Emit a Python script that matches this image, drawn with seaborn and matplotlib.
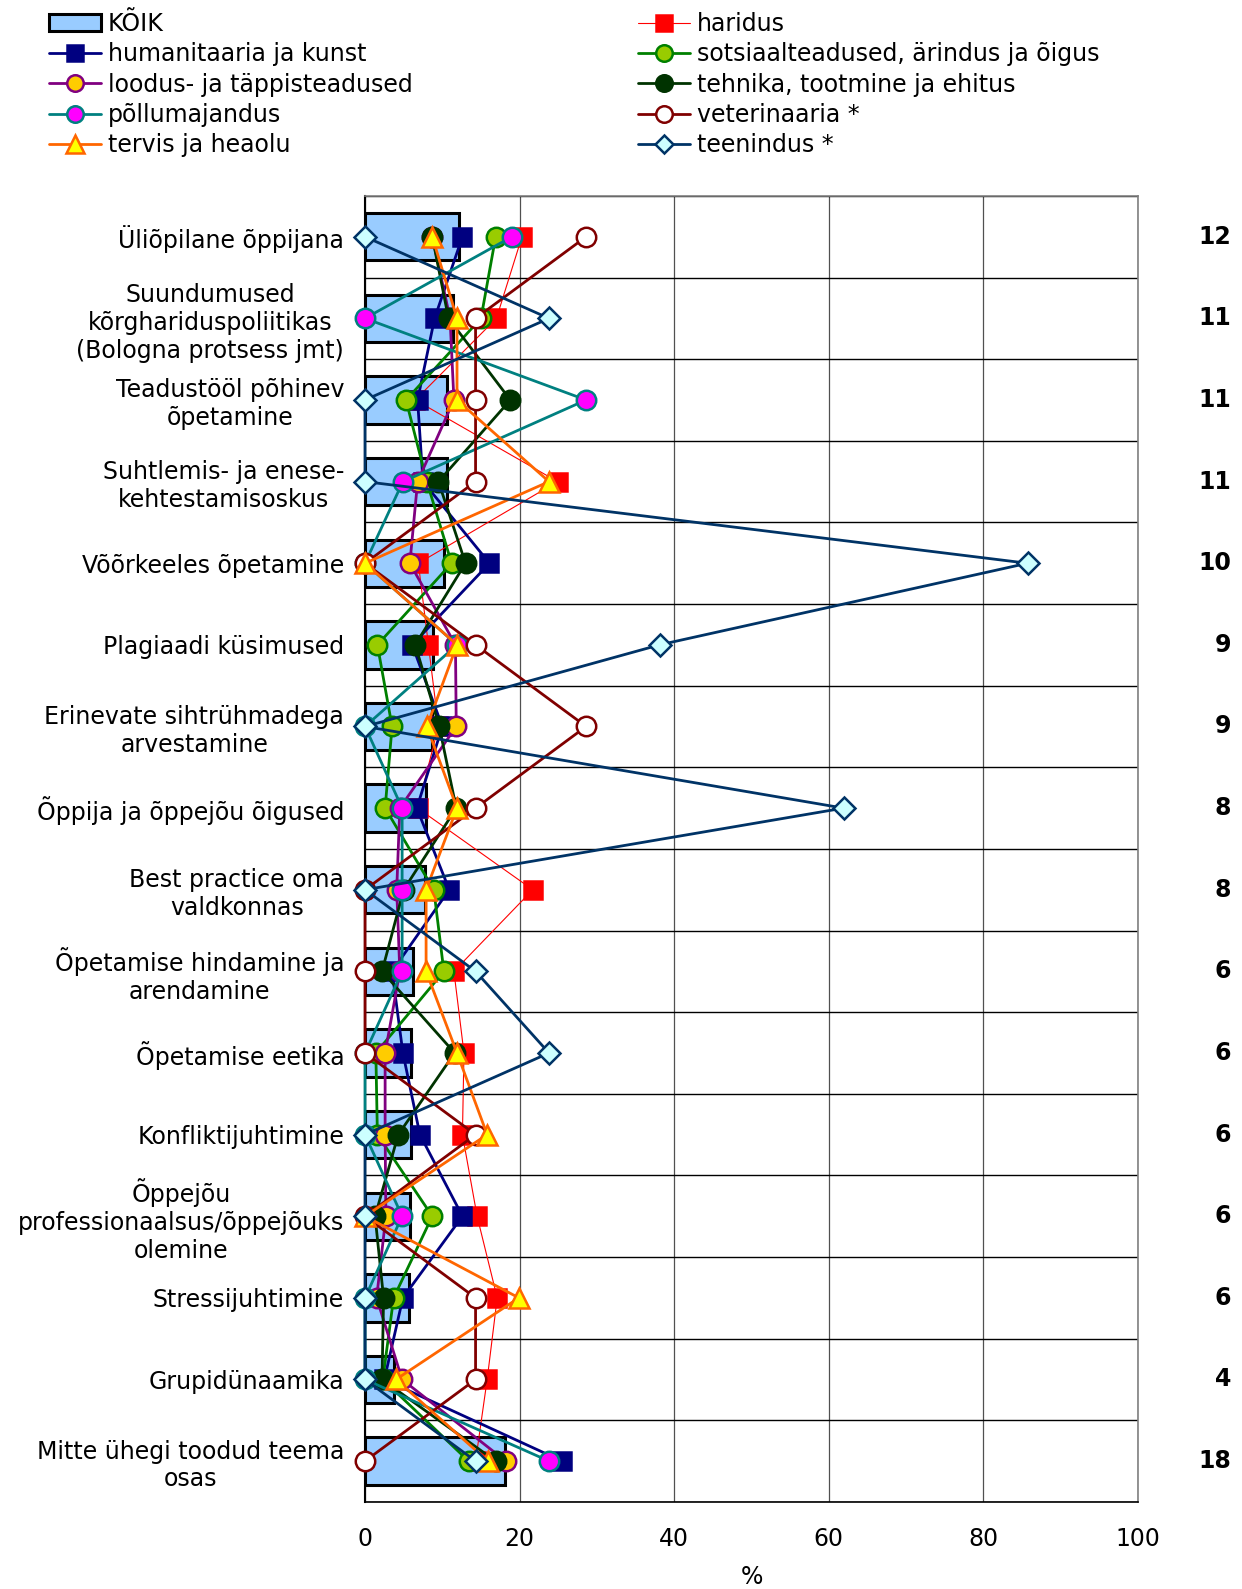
import matplotlib
matplotlib.use("Agg")
import numpy as np
import pandas as pd
import matplotlib.pyplot as plt
import seaborn as sns


# =========================================================
# DATA (percent of respondents per field of study)
# =========================================================

topics = [
    "Üliõpilane õppijana",
    "Suundumused\nkõrghariduspoliitikas\n(Bologna protsess jmt)",
    "Teadustööl põhinev\nõpetamine",
    "Suhtlemis- ja enese-\nkehtestamisoskus",
    "Võõrkeeles õpetamine",
    "Plagiaadi küsimused",
    "Erinevate sihtrühmadega\narvestamine",
    "Õppija ja õppejõu õigused",
    "Best practice oma\nvaldkonnas",
    "Õpetamise hindamine ja\narendamine",
    "Õpetamise eetika",
    "Konfliktijuhtimine",
    "Õppejõu\nprofessionaalsus/õppejõuks\nolemine",
    "Stressijuhtimine",
    "Grupidünaamika",
    "Mitte ühegi toodud teema\nosas",
]

koik = [12.1, 11.4, 10.6, 10.6, 10.2, 8.8, 8.7, 7.9, 7.7, 6.2, 6.0, 5.9, 5.8, 5.7, 3.8, 18.1]
koik_labels = ["12", "11", "11", "11", "10", "9", "9", "8", "8", "6", "6", "6", "6", "6", "4", "18"]

haridus = [20.3, 17.0, 6.5, 24.9, 6.9, 8.2, 9.5, 6.8, 21.7, 11.5, 12.8, 12.6, 14.5, 17.1, 15.8, 14.3]
humanitaaria = [12.6, 9.0, 6.8, 7.5, 16.1, 6.1, 10.0, 6.7, 10.9, 3.5, 4.9, 7.1, 12.6, 4.9, 2.5, 25.5]
sotsiaal = [16.9, 15.0, 5.3, 8.0, 11.2, 1.6, 3.5, 2.6, 8.9, 10.2, 1.4, 1.6, 8.7, 3.7, 2.3, 13.4]
loodus = [8.7, 11.0, 11.5, 6.8, 5.8, 11.7, 11.8, 4.5, 4.1, 4.5, 2.6, 2.6, 2.7, 1.5, 4.8, 18.2]
tehnika = [8.7, 10.8, 18.8, 9.5, 13.0, 6.5, 9.6, 11.8, 5.0, 2.2, 11.6, 4.3, 1.3, 2.4, 2.2, 16.9]
pollumajandus = [19.0, 0.0, 28.6, 4.9, 0.0, 11.9, 0.0, 4.8, 4.8, 4.8, 0.0, 0.0, 4.8, 0.0, 0.0, 23.8]
veterinaaria = [28.6, 14.3, 14.3, 14.3, 0.0, 14.3, 28.6, 14.3, 0.0, 0.0, 0.0, 14.3, 0.0, 14.3, 14.3, 0.0]
tervis = [8.7, 11.9, 11.9, 23.8, 0.0, 11.9, 8.0, 11.9, 7.9, 7.9, 11.9, 15.8, 0.0, 19.9, 4.0, 15.9]
teenindus = [0.0, 23.8, 0.0, 0.0, 85.7, 38.1, 0.0, 61.9, 0.0, 14.3, 23.8, 0.0, 0.0, 0.0, 0.0, 14.3]

pos = np.arange(len(topics))

# name, values, line colour, marker, face, edge, line width, marker size
series = [
    ("haridus", haridus, "#FF0000", "s", "#FF0000", "#FF0000", 0.8, 13),
    ("humanitaaria ja kunst", humanitaaria, "#000080", "s", "#000080", "#000080", 2.0, 13),
    ("sotsiaalteadused, ärindus ja õigus", sotsiaal, "#008000", "o", "#99CC00", "#008000", 2.0, 14),
    ("loodus- ja täppisteadused", loodus, "#800080", "o", "#FFCC00", "#800080", 2.0, 14),
    ("tehnika, tootmine ja ehitus", tehnika, "#003300", "o", "#003300", "#003300", 2.0, 14),
    ("põllumajandus", pollumajandus, "#008080", "o", "#FF00FF", "#008080", 2.0, 14),
    ("veterinaaria *", veterinaaria, "#800000", "o", "#FFFFFF", "#800000", 2.0, 14),
    ("tervis ja heaolu", tervis, "#FF6600", "^", "#FFFF00", "#FF6600", 2.0, 15),
    ("teenindus *", teenindus, "#003366", "D", "#CCFFFF", "#003366", 2.0, 11),
]


# =========================================================
# FIGURE
# =========================================================

sns.set_style("white")
plt.rcParams["font.family"] = ["DejaVu Sans"]
plt.rcParams["text.color"] = "black"
plt.rcParams["xtick.color"] = "black"
plt.rcParams["ytick.color"] = "black"
plt.rcParams["axes.labelcolor"] = "black"

fig = plt.figure(figsize=(12.42, 15.89), dpi=100)
ax = fig.add_axes([0.2939, 0.0548, 0.6224, 0.8219])

bars = pd.DataFrame({"pos": pos, "koik": koik})

sns.barplot(
    data=bars, x="koik", y="pos", orient="h", native_scale=True,
    width=0.58, color="#99CCFF", saturation=1, edgecolor="black",
    linewidth=2.2, errorbar=None, label="KÕIK", ax=ax, zorder=2
)

for i, (name, vals, lc, mk, fc, ec, lw, ms) in enumerate(series):
    sns.lineplot(
        x=vals, y=pos, orient="y", sort=False, estimator=None,
        color=lc, linewidth=lw, marker=mk, markersize=ms,
        markerfacecolor=fc, markeredgecolor=ec, markeredgewidth=1.8,
        label=name, clip_on=False, zorder=3 + i, ax=ax
    )

if ax.get_legend() is not None:
    ax.get_legend().remove()


# =========================================================
# AXES STYLING
# =========================================================

ax.set_xlim(0, 100)
ax.set_ylim(len(topics) - 0.5, -0.5)

ax.set_xticks(np.arange(0, 101, 20))
ax.tick_params(axis="x", direction="out", length=6, width=1, pad=12, labelsize=17)
ax.set_xlabel("%", fontsize=17, labelpad=10)
ax.set_ylabel("")

ax.set_yticks(pos)
ax.set_yticklabels(topics, fontsize=17)
for lab in ax.get_yticklabels():
    lab.set_multialignment("center")
ax.tick_params(axis="y", which="major", length=0, pad=15)

ax.set_yticks(np.arange(-0.5, len(topics), 1.0), minor=True)
ax.tick_params(axis="y", which="minor", direction="out", length=6, width=1, color="black")

ax.set_axisbelow(True)
ax.grid(which="minor", axis="y", color="black", linewidth=1.0)
ax.grid(which="major", axis="x", color="#505050", linewidth=0.9)
ax.grid(which="major", axis="y", visible=False)

ax.spines["left"].set_color("black")
ax.spines["left"].set_linewidth(1.5)
ax.spines["bottom"].set_color("black")
ax.spines["bottom"].set_linewidth(1.2)
for side in ["top", "right"]:
    ax.spines[side].set_color("#808080")
    ax.spines[side].set_linewidth(1.2)

# totals on the right
for p, txt in zip(pos, koik_labels):
    ax.text(1.1203, p, txt, transform=ax.get_yaxis_transform(),
            ha="right", va="center", fontsize=17, fontweight="bold")


# =========================================================
# LEGEND
# =========================================================

handles, labels = ax.get_legend_handles_labels()
lookup = dict(zip(labels, handles))
order = [
    "KÕIK", "humanitaaria ja kunst", "loodus- ja täppisteadused",
    "põllumajandus", "tervis ja heaolu",
    "haridus", "sotsiaalteadused, ärindus ja õigus",
    "tehnika, tootmine ja ehitus", "veterinaaria *", "teenindus *",
]

fig.legend(
    [lookup[k] for k in order], order,
    loc="upper left", bbox_to_anchor=(0.03, 1.0), ncol=2,
    frameon=False, fontsize=17, handlelength=2.2, handletextpad=0.3,
    columnspacing=9.55, labelspacing=0.27, borderpad=0, numpoints=1,
    markerscale=0.85
)

fig.savefig("out.png", dpi=100)
